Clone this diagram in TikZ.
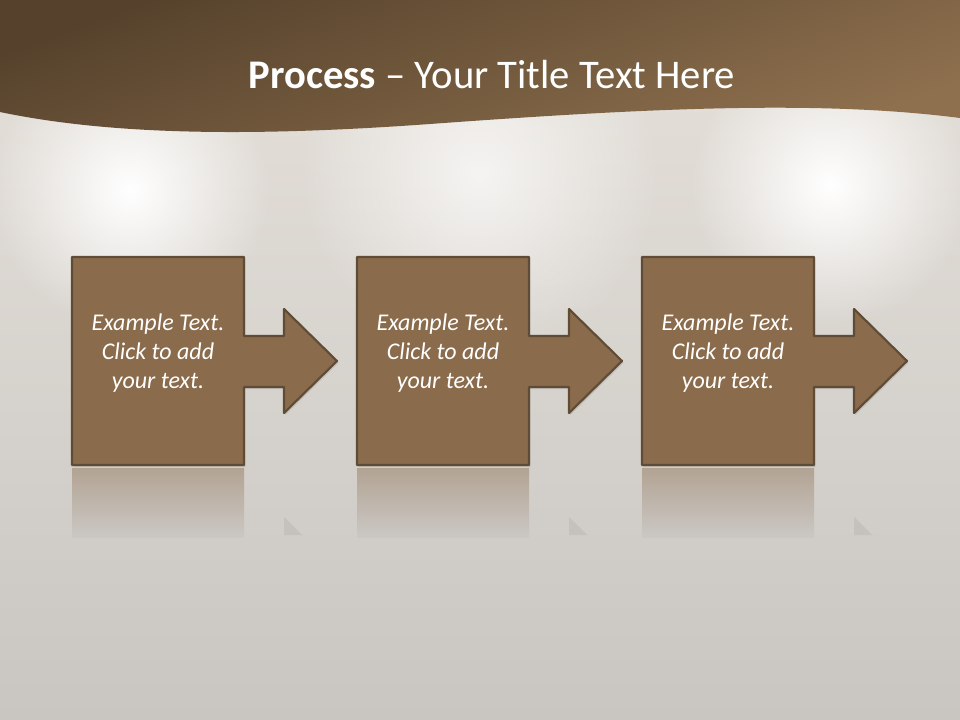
\documentclass[tikz,border=0pt]{standalone}
\usepackage{fontspec}
\setmainfont{Carlito}
\usetikzlibrary{positioning,calc,fadings,shadows}

\definecolor{stepbrown}{RGB}{138,107,75}
\definecolor{stepedge}{RGB}{96,76,54}
\definecolor{bannerdark}{RGB}{86,66,44}
\definecolor{bannerlight}{RGB}{142,112,78}
\definecolor{bgtop}{RGB}{230,225,218}
\definecolor{bgbottom}{RGB}{201,198,194}
\definecolor{mirror}{RGB}{178,163,147}
\tikzfading[name=glow,inner color=transparent!0,outer color=transparent!100]

\begin{document}
\begin{tikzpicture}[x=0.75pt,y=-0.75pt,
  stepshape/.style={fill=stepbrown,draw=stepedge,line width=1.6pt,line join=round,
    drop shadow={opacity=0.25,shadow xshift=1pt,shadow yshift=-1.5pt}},
  steptext/.style={text=white,align=center,font=\itshape\fontsize{18}{21.8}\selectfont}]
\useasboundingbox (0,0) rectangle (960,720);
% background
\shade[top color=bgtop,bottom color=bgbottom] (0,0) rectangle (960,720);
\fill[white,path fading=glow] (130,190) circle (140);
\fill[white,path fading=glow] (830,185) circle (140);
\fill[white,opacity=0.7,path fading=glow] (480,175) circle (180);
% banner
\shade[top color=bannerdark,bottom color=bannerlight,shading angle=20]
  (0,0) -- (960,0) -- (960,118)
  .. controls (820,100) and (650,108) .. (430,124)
  .. controls (250,137) and (110,135) .. (0,112) -- cycle;
\node[text=white,font=\fontsize{30.5}{36}\selectfont] (title) at (492,75)
  {\textbf{Process} -- Your Title Text Here};
% steps
\foreach \i/\x in {1/72,2/357,3/642}{
  \shade[top color=mirror,bottom color=bgbottom!97!white] (\x,468) rectangle (\x+172,537);
  \fill[bgbottom!94!gray] (\x+212,517) -- (\x+230,535) -- (\x+212,535) -- cycle;
  \draw[stepshape] (\x,257) -- (\x+172,257) -- (\x+172,336) -- (\x+212,336)
    -- (\x+212,309) -- (\x+265,361) -- (\x+212,413) -- (\x+212,387)
    -- (\x+172,387) -- (\x+172,465) -- (\x,465) -- cycle;
  \node[steptext] (step\i) at (\x+86,353) {Example Text.\\Click to add\\your text.};
}
\end{tikzpicture}
\end{document}
